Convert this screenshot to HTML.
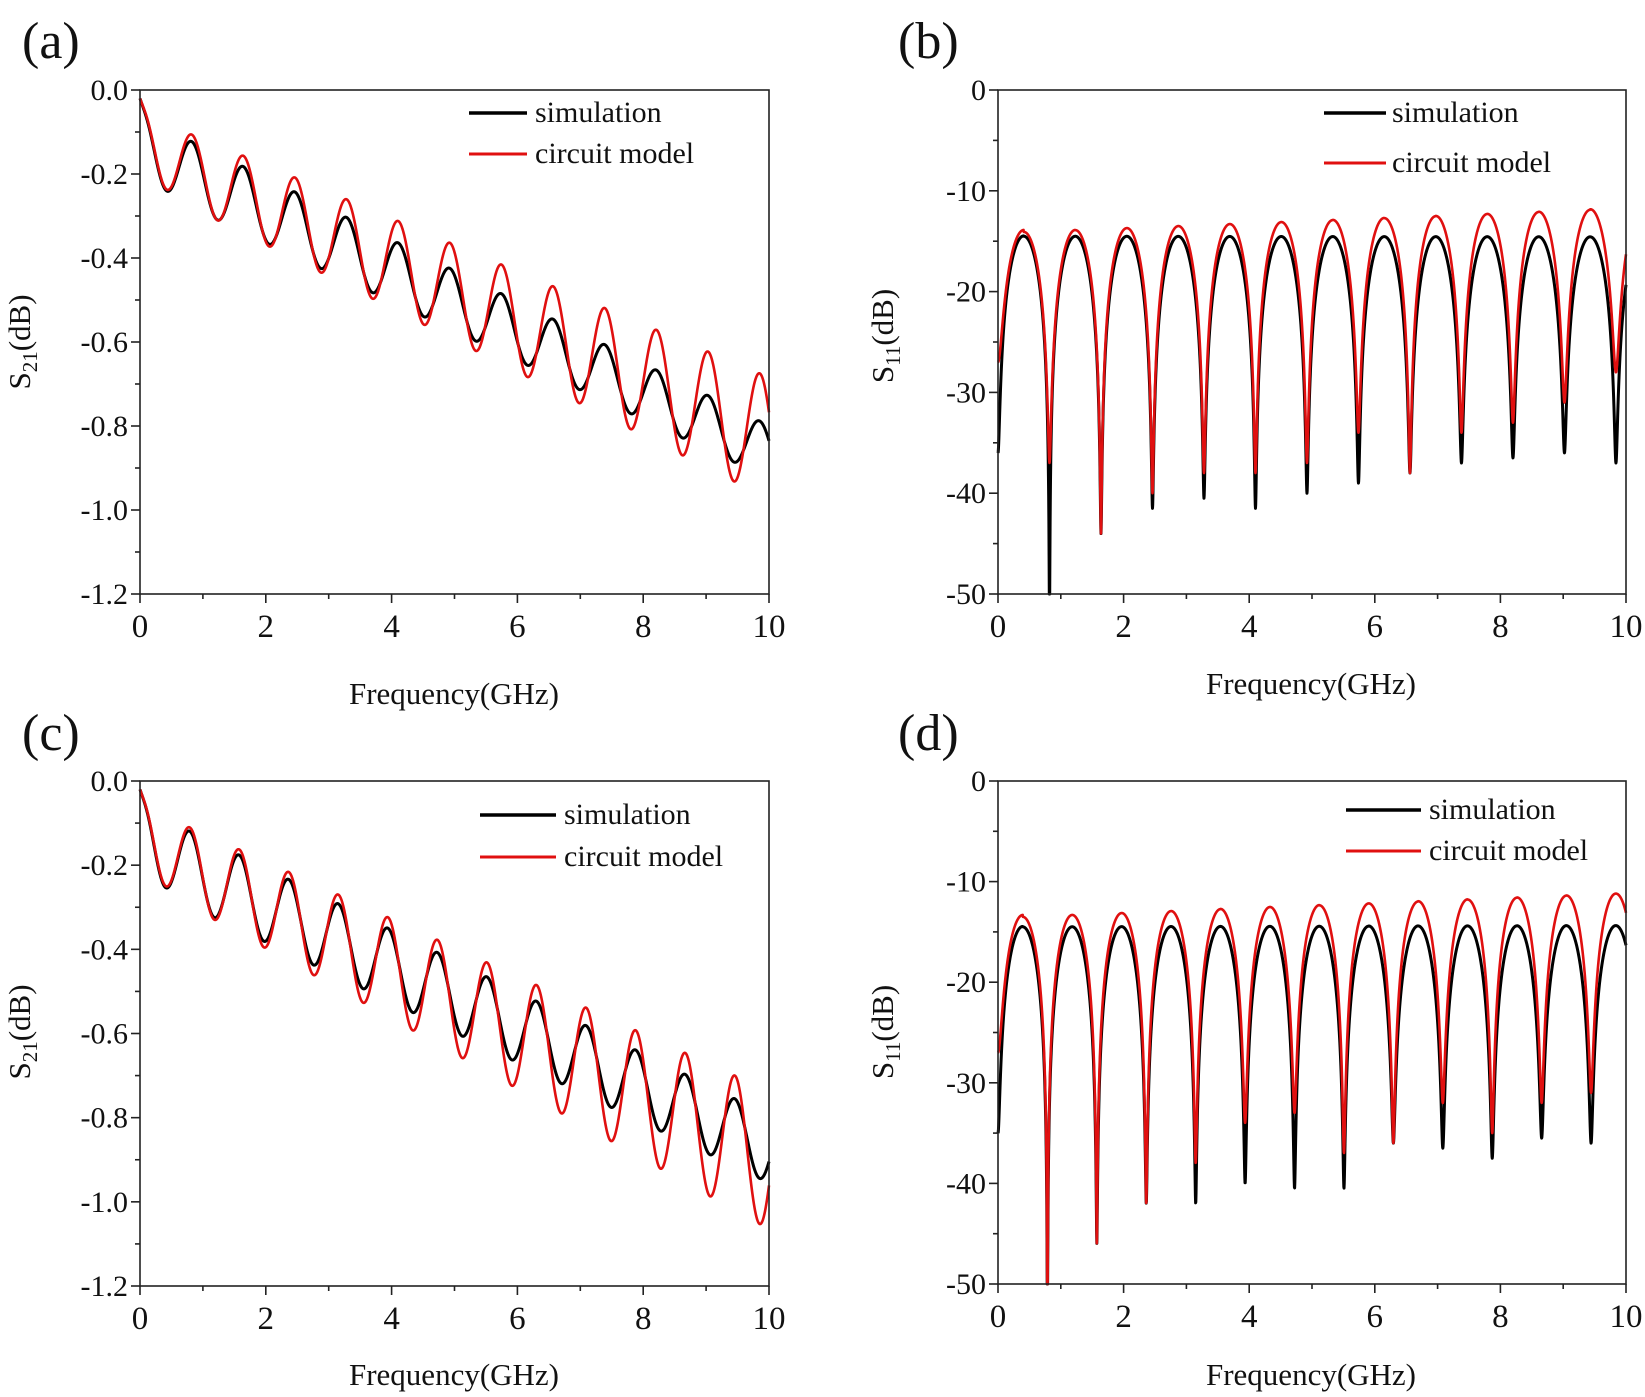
<!DOCTYPE html>
<html><head><meta charset="utf-8"><style>
html,body{margin:0;padding:0;background:#fff}
svg{display:block}
text{font-family:"Liberation Serif",serif;fill:#111}
</style></head><body>
<svg id="s" width="1645" height="1397" viewBox="0 0 1645 1397" xmlns="http://www.w3.org/2000/svg"></svg>
<script>
const S=document.getElementById('s');let h='';
function T(x,y,t,sz,anc,extra){h+=`<text x="${x}" y="${y}" font-size="${sz}" text-anchor="${anc||'start'}" ${extra||''}>${t}</text>`;}
function panel(o){
 const {L,R,Tp,B,y0,y1,yt,ydec}=o;
 const X=v=>L+(R-L)*v/10, Y=v=>Tp+(B-Tp)*(y1-v)/(y1-y0);
 for(const s of o.series){
  let d='';for(let i=0;i<=3000;i++){const x=10*i/3000;let v=s.f(x);v=Math.max(y0,Math.min(y1,v));d+=(i?'L':'M')+X(x).toFixed(2)+' '+Y(v).toFixed(2);}
  h+=`<path d="${d}" fill="none" stroke="${s.c}" stroke-width="${s.w}" stroke-linejoin="round"/>`;
 }
 h+=`<rect x="${L}" y="${Tp}" width="${R-L}" height="${B-Tp}" fill="none" stroke="#222" stroke-width="1.6"/>`;
 for(let v=0;v<=10;v+=1){const x=X(v);h+=`<line x1="${x}" y1="${B}" x2="${x}" y2="${B+(v%2?5:9)}" stroke="#222" stroke-width="1.6"/>`;if(v%2==0)T(x,B+43,v,33,'middle');}
 for(let k=0;k<yt.length;k++){const v=yt[k];const y=Y(v);h+=`<line x1="${L-9}" y1="${y}" x2="${L}" y2="${y}" stroke="#222" stroke-width="1.6"/>`;T(L-12,y+10,v.toFixed(ydec),30,'end');
  if(k<yt.length-1){const ym=Y((v+yt[k+1])/2);h+=`<line x1="${L-5}" y1="${ym}" x2="${L}" y2="${ym}" stroke="#222" stroke-width="1.6"/>`;}}
 T(o.xl[0],o.xl[1],'Frequency(GHz)',31,'middle');
 h+=`<text transform="translate(${o.yl[0]},${o.yl[1]}) rotate(-90)" font-size="31" text-anchor="middle">S<tspan font-size="21" dy="7">${o.sub}</tspan><tspan dy="-7">(dB)</tspan></text>`;
 T(o.lab[0],o.lab[1],o.lab[2],52,'start');
 const g=o.leg;
 h+=`<line x1="${g[0]}" y1="${g[3]}" x2="${g[1]}" y2="${g[3]}" stroke="#000" stroke-width="3.5"/>`;T(g[2],g[3]+9,'simulation',30);
 h+=`<line x1="${g[0]}" y1="${g[4]}" x2="${g[1]}" y2="${g[4]}" stroke="#e01010" stroke-width="3"/>`;T(g[2],g[4]+9,'circuit model',30);
}
function s21b(P,m0,slope,a0,ag){return x=>{const m=m0+slope*x;const a=a0+ag*x;let v=m+a*Math.cos(2*Math.PI*x/P);const w=Math.exp(-x/0.18);return v*(1-w)+(-0.02-0.25*x)*w;};}
function s11(P,pk0,pk1,nulls){return x=>{const pk=pk0+(pk1-pk0)*x/10;const R=Math.pow(10,pk/20);const k=Math.round(x/P);const nd=nulls[Math.min(nulls.length-1,k)];const d=Math.pow(10,nd/20);const s=Math.sin(Math.PI*x/P);return 10*Math.log10(R*R*s*s+d*d);};}
const yA=[0,-0.2,-0.4,-0.6,-0.8,-1.0,-1.2].reverse();
const yB=[-50,-40,-30,-20,-10,0];
panel({L:140,R:769,Tp:90,B:594,y0:-1.2,y1:0,yt:yA,ydec:1,sub:'21',xl:[454,704],yl:[30,342],lab:[22,58,'(a)'],leg:[469,527,535,113,154],
 series:[{c:'#000',w:3,f:s21b(0.821,-0.142,-0.072,0.081,-0.0018)},{c:'#e01010',w:2.6,f:s21b(0.821,-0.135,-0.0694,0.082,0.0063)}]});
panel({L:998,R:1626,Tp:90,B:594,y0:-50,y1:0,yt:yB,ydec:0,sub:'11',xl:[1311,694],yl:[893,336],lab:[898,58,'(b)'],leg:[1324,1386,1392,113,163],
 series:[{c:'#000',w:3,f:s11(0.82,-14.5,-14.6,[-36,-60,-44,-41.5,-40.5,-41.5,-40,-39,-38,-37,-36.5,-36,-37])},{c:'#e01010',w:2.6,f:s11(0.82,-14.2,-11.8,[-27,-37,-44,-40,-38,-38,-37,-34,-38,-34,-33,-31,-28])}]});
panel({L:140,R:769,Tp:781,B:1286,y0:-1.2,y1:0,yt:yA,ydec:1,sub:'21',xl:[454,1385],yl:[30,1032],lab:[22,750,'(c)'],leg:[480,556,564,815,857],
 series:[{c:'#000',w:3,f:s21b(0.788,-0.15,-0.0725,0.09,-0.001)},{c:'#e01010',w:2.6,f:s21b(0.788,-0.143,-0.0758,0.088,0.0076)}]});
panel({L:998,R:1626,Tp:781,B:1284,y0:-50,y1:0,yt:yB,ydec:0,sub:'11',xl:[1311,1385],yl:[893,1032],lab:[898,750,'(d)'],leg:[1346,1421,1429,810,851],
 series:[{c:'#000',w:3,f:s11(0.787,-14.5,-14.4,[-35,-60,-46,-42,-42,-40,-40.5,-40.5,-36,-36.5,-37.5,-35.5,-36])},{c:'#e01010',w:2.6,f:s11(0.787,-13.6,-11.2,[-27,-60,-46,-42,-38,-34,-33,-37,-36,-32,-35,-32,-31])}]});
S.innerHTML=h;
</script>
</body></html>
